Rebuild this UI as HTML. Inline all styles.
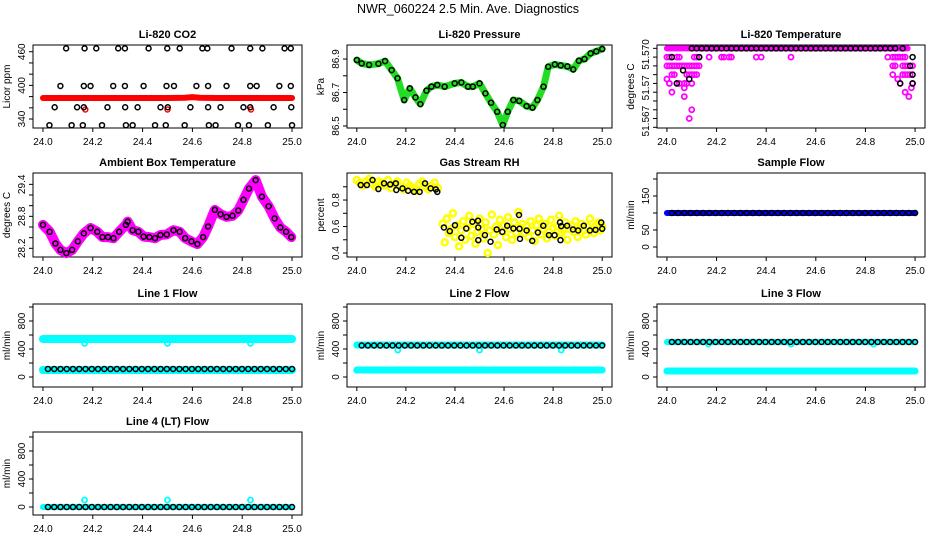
<!DOCTYPE html>
<html><head><meta charset="utf-8"><style>
html,body{margin:0;padding:0;background:#fff;}
svg{display:block;font-family:"Liberation Sans",Arial,sans-serif;}
</style></head><body>
<svg id="chart" width="936" height="540" viewBox="0 0 936 540" xmlns="http://www.w3.org/2000/svg">
<rect width="936" height="540" fill="#fff"/>
<text x="468" y="13" text-anchor="middle" font-size="12.5">NWR_060224  2.5 Min. Ave. Diagnostics</text>
</svg>
<script>
// ---------- data ----------
const xTicks = [24.0, 24.2, 24.4, 24.6, 24.8, 25.0];
const xTickLabels = ["24.0","24.2","24.4","24.6","24.8","25.0"];

// CO2 (black points, quantized levels)
const co2X = [0.093,0.167,0.214,0.302,0.329,0.424,0.499,0.549,0.640,0.660,0.757,0.832,0.881,0.970,0.995,
 0.070,0.164,0.191,0.282,0.329,0.404,0.496,0.526,0.616,0.663,0.737,0.832,0.858,0.949,0.995,
 0.047,0.137,0.164,0.259,0.330,0.380,0.472,0.501,0.592,0.663,0.713,0.805,0.832,0.926,0.997,
 0.026,0.115,0.160,0.237,0.333,0.360,0.450,0.493,0.569,0.666,0.693,0.783,0.827,0.903,1.0];
const co2Y = [466,466,466,466,466,466,466,466,466,466,466,466,466,466,466,
 399,399,399,399,399,399,399,399,399,399,399,399,399,399,399,
 361,361,361,361,361,361,361,361,361,361,361,361,361,361,361,
 329,329,329,329,329,329,329,329,329,329,329,329,329,329,329];
const co2RedX = [0,0.1,0.2,0.3,0.4,0.5,0.57,0.6,0.63,0.7,0.8,0.9,1.0];
const co2RedY = [377.5,377.5,377.5,377.5,377.5,377.5,378,379,378,377.5,377.5,377.5,377.5];
const co2RedOutX = [0.17,0.50,0.835];
const co2RedOutY = [357,357,357];

// Pressure
const presX = [0,0.02,0.05,0.088,0.115,0.142,0.166,0.193,0.216,0.239,0.259,0.284,0.304,0.328,0.358,0.399,0.426,0.453,0.473,0.5,0.524,0.547,0.572,0.595,0.615,0.638,0.662,0.692,0.716,0.736,0.761,0.78,0.807,0.831,0.858,0.882,0.905,0.928,0.953,0.976,1.0];
const presY = [86.894,86.874,86.865,86.872,86.888,86.834,86.785,86.655,86.725,86.671,86.631,86.711,86.735,86.745,86.735,86.755,86.760,86.735,86.735,86.755,86.695,86.639,86.585,86.506,86.585,86.655,86.650,86.619,86.610,86.655,86.735,86.854,86.868,86.862,86.856,86.838,86.890,86.900,86.934,86.946,86.960];

// Li-820 temperature
const tempTopX = [0.0,0.97];
const tempTopY = [51.580,51.580];
const tempMX = [0.00,0.01,0.02,0.04,0.05,0.11,0.12,0.13,0.17,0.22,0.23,0.25,0.26,0.36,0.38,0.50,0.89,0.91,0.92,0.93,0.94,0.95,0.96,
 0.00,0.01,0.02,0.03,0.04,0.05,0.06,0.07,0.08,0.09,0.10,0.11,0.12,0.13,0.91,0.92,0.95,0.96,0.97,0.98,0.99,
 0.02,0.03,0.08,0.09,0.10,0.11,0.12,0.91,0.95,0.96,0.97,0.98,
 0.00,0.93,0.01,0.04,0.05,0.07,0.08,0.10,0.94,0.99,0.07,0.985,0.02,0.96,0.07,0.975,0.10,0.09];
const tempMY = [51.579,51.579,51.579,51.579,51.579,51.579,51.579,51.579,51.579,51.579,51.579,51.579,51.579,51.579,51.579,51.579,51.579,51.579,51.579,51.579,51.579,51.579,51.579,
 51.578,51.578,51.578,51.578,51.578,51.578,51.578,51.578,51.578,51.578,51.578,51.578,51.578,51.578,51.578,51.578,51.578,51.578,51.578,51.578,51.578,
 51.577,51.577,51.577,51.577,51.577,51.577,51.577,51.577,51.577,51.577,51.577,51.577,
 51.5765,51.5765,51.576,51.576,51.576,51.576,51.576,51.576,51.576,51.576,51.5755,51.5755,51.575,51.575,51.5745,51.5745,51.573,51.572];
const tempBX = [0.10,0.12,0.14,0.16,0.18,0.20,0.22,0.24,0.26,0.28,0.30,0.32,0.34,0.36,0.38,0.40,0.42,0.44,0.46,0.48,0.50,0.52,0.54,0.56,0.58,0.60,0.62,0.64,0.66,0.68,0.70,0.72,0.74,0.76,0.78,0.80,0.82,0.84,0.86,0.88,0.90,0.92,0.95,
 0.02,0.13,0.99,0.98,0.065,0.99,0.09,0.04,0.94,0.99];
const tempBY = [51.580,51.580,51.580,51.580,51.580,51.580,51.580,51.580,51.580,51.580,51.580,51.580,51.580,51.580,51.580,51.580,51.580,51.580,51.580,51.580,51.580,51.580,51.580,51.580,51.580,51.580,51.580,51.580,51.580,51.580,51.580,51.580,51.580,51.580,51.580,51.580,51.580,51.580,51.580,51.580,51.580,51.580,51.580,
 51.579,51.579,51.579,51.578,51.5775,51.577,51.5765,51.576,51.576,51.576];

// Ambient box temperature
const ambX = [0,0.027,0.05,0.07,0.094,0.117,0.14,0.164,0.191,0.218,0.239,0.261,0.283,0.306,0.333,0.34,0.36,0.383,0.404,0.427,0.45,0.472,0.497,0.524,0.549,0.571,0.596,0.62,0.643,0.663,0.69,0.713,0.737,0.761,0.784,0.805,0.827,0.854,0.879,0.906,0.93,0.953,0.976,0.997];
const ambY = [28.64,28.51,28.29,28.17,28.11,28.17,28.33,28.48,28.58,28.51,28.41,28.41,28.39,28.51,28.64,28.70,28.54,28.51,28.42,28.41,28.39,28.45,28.46,28.54,28.51,28.39,28.33,28.28,28.41,28.61,28.92,28.84,28.79,28.81,28.91,29.11,29.32,29.48,29.17,28.99,28.76,28.59,28.51,28.41];

// Gas stream RH
const rhYellow = [0.95,0.93,0.91,0.94,0.96,0.92,0.90,0.94,0.93,0.91,0.95,0.89,0.92,0.94,0.90,0.88,0.93,0.91,0.89,0.87,0.92,0.94,0.90,0.88,0.91,0.93,0.89,
 0.62,0.48,0.66,0.55,0.58,0.70,0.52,0.61,0.45,0.57,0.64,0.50,0.59,0.68,0.53,0.62,0.47,0.56,0.66,0.58,0.51,0.63,0.40,0.57,0.69,0.54,0.60,0.46,0.65,0.56,0.61,0.52,0.67,0.58,0.50,0.63,0.55,0.71,0.59,0.62,
 0.55,0.60,0.52,0.64,0.57,0.49,0.61,0.66,0.54,0.58,0.62,0.51,0.56,0.65,0.59,0.53,0.60,0.68,0.55,0.57,0.63,0.50,0.58,0.61,0.56,0.64,0.52,0.59,0.62,0.57,0.54,0.60,0.66,0.58,0.55,0.61,0.63,0.57,0.60];
const rhBX = [0.016,0.041,0.064,0.088,0.111,0.136,0.159,0.161,0.186,0.209,0.233,0.256,0.278,0.301,0.322,0.328,0.355,0.379,0.40,0.426,0.446,0.471,0.494,0.495,0.495,0.522,0.545,0.57,0.593,0.613,0.638,0.661,0.663,0.665,0.692,0.715,0.738,0.76,0.783,0.806,0.828,0.83,0.833,0.857,0.881,0.902,0.925,0.95,0.973,0.996,1.0];
const rhBY = [0.913,0.913,0.951,0.883,0.926,0.918,0.926,0.876,0.888,0.87,0.862,0.862,0.926,0.888,0.88,0.862,0.593,0.565,0.61,0.515,0.585,0.636,0.644,0.593,0.497,0.535,0.485,0.578,0.56,0.606,0.585,0.687,0.583,0.507,0.57,0.492,0.555,0.606,0.535,0.535,0.631,0.497,0.603,0.606,0.578,0.57,0.606,0.57,0.575,0.63,0.583];

// Flows (band values along time, black sample values)
const bandT = [0,0.25,0.5,0.75,1.0];
const sampleBlue = [100,100,100,100,100];
const sampleBlack = [100,100,100,100,100,100,100,100,100,100,100,100,100,100,100,100,100,100,100,100,100,100,100,100,100,100,100,100,100,100,100,100,100,100,100,100,100,100,100,100];
const line1CyanHi = [543,543,543,543,543];
const line1CyanLo = [100,100,100,100,100];
const line1Black = [114,114,114,114,114,114,114,114,114,114,114,114,114,114,114,114,114,114,114,114,114,114,114,114,114,114,114,114,114,114,114,114,114,114,114,114,114,114,114,114];
const line2CyanHi = [457,457,457,457,457];
const line2CyanLo = [100,100,100,100,100];
const line2Black = [450,450,450,450,450,450,450,450,450,450,450,450,450,450,450,450,450,450,450,450,450,450,450,450,450,450,450,450,450,450,450,450,450,450,450,450,450,450,450,450];
const line3CyanHi = [500,500,500,500,500];
const line3CyanLo = [86,86,86,86,86];
const line3Black = [500,500,500,500,500,500,500,500,500,500,500,500,500,500,500,500,500,500,500,500,500,500,500,500,500,500,500,500,500,500,500,500,500,500,500,500,500,500,500,500];
const line4Cyan = [0,0,0,0,0];
const line4Black = [0,0,0,0,0,0,0,0,0,0,0,0,0,0,0,0,0,0,0,0,0,0,0,0,0,0,0,0,0,0,0,0,0,0,0,0,0,0,0,0];
const dipT = [0.167,0.50,0.833];
const line1Dip = [480,480,480];
const line2Dip = [385,385,385];
const line3Dip = [470,470,470];
const line4Out = [100,100,100];

// ---------- drawing ----------
const NS = "http://www.w3.org/2000/svg";
const svg = document.getElementById("chart");
const cols = [[33,302],[347,612],[657,925]];
const rows = [[45,128],[173,257],[304,387],[432,515]];

function mk(tag, parent){ const e = document.createElementNS(NS, tag); parent.appendChild(e); return e; }

function panel(c, r, title, ylab, ylim, yticks, ylabels, ylabelVals, name){
  const L = cols[c][0], R = cols[c][1], T = rows[r][0], B = rows[r][1];
  const g = mk("g", svg);
  
  
  const sx = v => L + (v - 23.96) / 1.08 * (R - L);
  const sy = v => T + (ylim[1] - v) / (ylim[1] - ylim[0]) * (B - T);
  const box = mk("rect", g);
  
  
  box.setAttribute("x", L); box.setAttribute("y", T); box.setAttribute("width", R - L); box.setAttribute("height", B - T);
  box.setAttribute("fill", "none"); box.setAttribute("stroke", "#000"); box.setAttribute("stroke-width", "1");
  const t = mk("text", g);
  
  
  t.setAttribute("x", (L + R) / 2); t.setAttribute("y", T - 7); t.setAttribute("text-anchor", "middle");
  t.setAttribute("font-size", "11"); t.setAttribute("font-weight", "bold"); t.textContent = title;
  const yl = mk("text", g);
  
  
  yl.setAttribute("transform", `translate(${L - 23},${(T + B) / 2}) rotate(-90)`);
  yl.setAttribute("text-anchor", "middle"); yl.setAttribute("font-size", "10"); yl.textContent = ylab;
  yticks.forEach(v => {
    const tk = mk("line", g);
    
    
    tk.setAttribute("x1", L - 4); tk.setAttribute("x2", L); tk.setAttribute("y1", sy(v)); tk.setAttribute("y2", sy(v)); tk.setAttribute("stroke", "#000");
  });
  ylabelVals.forEach((v, i) => {
    const tl = mk("text", g);
    
    
    tl.setAttribute("transform", `translate(${L - 8},${sy(v)}) rotate(-90)`);
    tl.setAttribute("text-anchor", "middle"); tl.setAttribute("font-size", "10"); tl.textContent = ylabels[i];
  });
  xTicks.forEach((v, i) => {
    const tk = mk("line", g);
    
    
    tk.setAttribute("x1", sx(v)); tk.setAttribute("x2", sx(v)); tk.setAttribute("y1", B); tk.setAttribute("y2", B + 4); tk.setAttribute("stroke", "#000");
    const tl = mk("text", g);
    
    
    tl.setAttribute("x", sx(v)); tl.setAttribute("y", B + 17); tl.setAttribute("text-anchor", "middle"); tl.setAttribute("font-size", "10");
    tl.textContent = xTickLabels[i];
  });
  return {g, sx, sy};
}

function pts(p, xs, ys, color, r, sw, name){
  xs.forEach((x, i) => {
    const c = mk("circle", p.g);
    
    
    c.setAttribute("cx", p.sx(24 + x)); c.setAttribute("cy", p.sy(ys[i])); c.setAttribute("r", r);
    c.setAttribute("fill", "none"); c.setAttribute("stroke", color); c.setAttribute("stroke-width", sw);
  });
}
function seqPts(p, ys, start, end, color, r, sw, name){
  const xs = ys.map((_, i) => start + (end - start) * i / (ys.length - 1));
  pts(p, xs, ys, color, r, sw, name);
}
function band(p, xs, ys, color, w, name){
  const pl = mk("polyline", p.g);
  
  
  pl.setAttribute("points", xs.map((x, i) => p.sx(24 + x) + "," + p.sy(ys[i])).join(" "));
  pl.setAttribute("fill", "none"); pl.setAttribute("stroke", color); pl.setAttribute("stroke-width", w);
  pl.setAttribute("stroke-linejoin", "round"); pl.setAttribute("stroke-linecap", "round");
}

// Row 1
let p = panel(0, 0, "Li-820 CO2", "Licor ppm", [324, 472], [340,360,380,400,420,440,460], ["340","400","460"], [340,400,460], "co2-panel");
band(p, co2RedX, co2RedY, "#ff0000", 6, "co2-red-band");
pts(p, co2RedOutX, co2RedOutY, "#ff0000", 2.5, 1.5, "co2-red-outlier");
pts(p, co2X, co2Y, "#000", 2.5, 1.5, "co2-point");

p = panel(1, 0, "Li-820 Pressure", "kPa", [86.488, 86.984], [86.5,86.6,86.7,86.8,86.9], ["86.5","86.7","86.9"], [86.5,86.7,86.9], "pressure-panel");
band(p, presX, presY, "#22dd22", 7, "pressure-green-band");
pts(p, presX, presY, "#000", 2.5, 1.5, "pressure-point");

p = panel(2, 0, "Li-820 Temperature", "degrees C", [51.57092, 51.58038], [51.580,51.579,51.578,51.577,51.576,51.575,51.574,51.573,51.572,51.571], ["51.570","51.57","51.567"], [51.5793,51.5755,51.5717], "li820-temperature-panel");
band(p, tempTopX, tempTopY, "#ff00ff", 6, "temperature-magenta-band");
pts(p, tempMX, tempMY, "#ff00ff", 2.5, 1.8, "temperature-magenta-point");
pts(p, tempBX, tempBY, "#000", 2.5, 1.5, "temperature-point");

// Row 2
p = panel(0, 1, "Ambient Box Temperature", "degrees C", [28.037, 29.613], [28.2,28.4,28.6,28.8,29.0,29.2,29.4], ["28.2","28.8","29.4"], [28.2,28.8,29.4], "ambient-temperature-panel");
band(p, ambX, ambY, "#ff00ff", 10, "ambient-magenta-band");
pts(p, ambX, ambY, "#000", 2.5, 1.5, "ambient-point");

p = panel(1, 1, "Gas Stream RH", "percent", [0.370, 1.004], [0.4,0.5,0.6,0.7,0.8,0.9], ["0.4","0.6","0.8"], [0.4,0.6,0.8], "gas-rh-panel");
const rhX = rhYellow.map((_, i) => i < 27 ? 0.33 * i / 26 : 0.35 + 0.65 * (i - 27) / (rhYellow.length - 28));
pts(p, rhX, rhYellow, "#ffff00", 3, 2.5, "rh-yellow-point");
pts(p, rhBX, rhBY, "#000", 2.5, 1.5, "rh-point");

p = panel(2, 1, "Sample Flow", "ml/min", [-29.4, 217.6], [0,50,100,150,200], ["0","50","150"], [0,50,150], "sample-flow-panel");
band(p, bandT, sampleBlue, "#0000ff", 6, "sample-blue-band");
seqPts(p, sampleBlack, 0.02, 1.0, "#000", 2.5, 1.5, "sample-point");

// Row 3
const flowTicks = [0,200,400,600,800,1000];
p = panel(0, 2, "Line 1 Flow", "ml/min", [-143, 1043], flowTicks, ["0","400","800"], [0,400,800], "line1-flow-panel");
band(p, bandT, line1CyanHi, "#00ffff", 8, "line1-cyan-high");
band(p, bandT, line1CyanLo, "#00ffff", 8, "line1-cyan-low");
pts(p, dipT, line1Dip, "#00ffff", 2.5, 1.8, "line1-dip");
seqPts(p, line1Black, 0.02, 1.0, "#000", 2.5, 1.5, "line1-point");

p = panel(1, 2, "Line 2 Flow", "ml/min", [-143, 1043], flowTicks, ["0","400","800"], [0,400,800], "line2-flow-panel");
band(p, bandT, line2CyanHi, "#00ffff", 7, "line2-cyan-high");
band(p, bandT, line2CyanLo, "#00ffff", 7, "line2-cyan-low");
pts(p, dipT, line2Dip, "#00ffff", 2.5, 1.8, "line2-dip");
seqPts(p, line2Black, 0.02, 1.0, "#000", 2.5, 1.5, "line2-point");

p = panel(2, 2, "Line 3 Flow", "ml/min", [-143, 1043], flowTicks, ["0","400","800"], [0,400,800], "line3-flow-panel");
band(p, bandT, line3CyanHi, "#00ffff", 6, "line3-cyan-high");
band(p, bandT, line3CyanLo, "#00ffff", 7, "line3-cyan-low");
pts(p, dipT, line3Dip, "#00ffff", 2.5, 1.8, "line3-dip");
seqPts(p, line3Black, 0.02, 1.0, "#000", 2.5, 1.5, "line3-point");

// Row 4
p = panel(0, 3, "Line 4 (LT) Flow", "ml/min", [-114, 1071], flowTicks, ["0","400","800"], [0,400,800], "line4-flow-panel");
band(p, bandT, line4Cyan, "#00ffff", 6, "line4-cyan-band");
pts(p, dipT, line4Out, "#00ffff", 2.5, 1.8, "line4-outlier");
seqPts(p, line4Black, 0.02, 1.0, "#000", 2.5, 1.5, "line4-point");
</script>
</body></html>
